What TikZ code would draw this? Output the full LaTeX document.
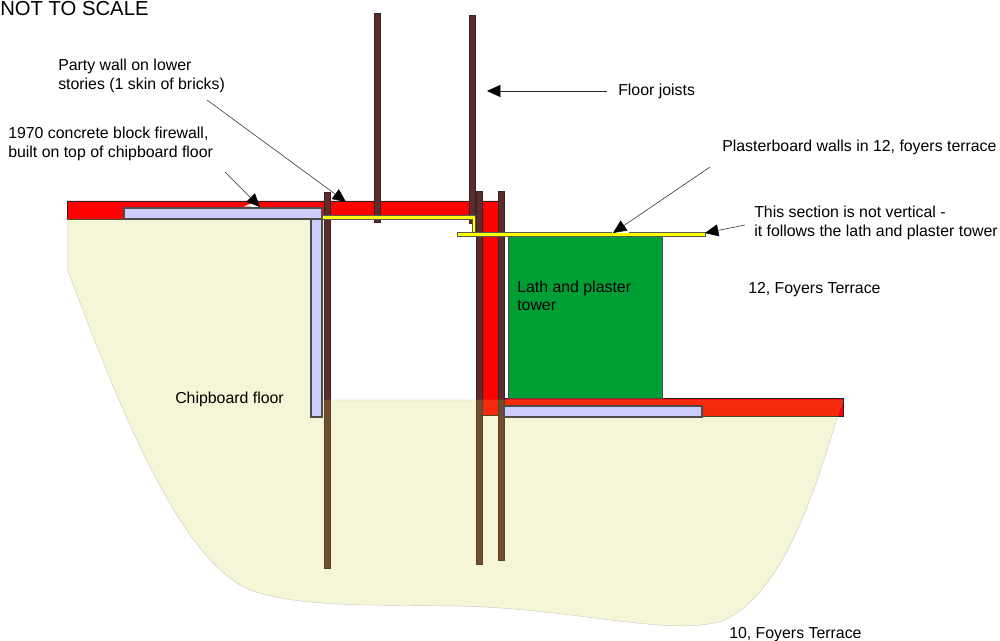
\documentclass[tikz,border=0pt]{standalone}
\usepackage{fontspec}
\setmainfont{Liberation Sans}
\usetikzlibrary{arrows.meta,positioning}
\definecolor{wallred}{HTML}{FF0000}
\definecolor{joistbrown}{HTML}{5A2D2D}
\definecolor{boardlilac}{HTML}{CCCCFF}
\definecolor{towergreen}{HTML}{009F36}
\definecolor{floorcream}{HTML}{CDCD37}
\definecolor{plasteryellow}{HTML}{FFFF00}
\tikzset{
	wall/.style={draw=black!85,line width=0.7pt,fill=wallred},
	joist/.style={draw=joistbrown!70!black,line width=0.5pt,fill=joistbrown},
	board/.style={draw=black!70,line width=0.8pt,fill=boardlilac},
	plaster/.style={draw=black!65,line width=0.7pt,fill=plasteryellow},
	caption/.style={inner sep=0pt,align=left,anchor=west,font=\fontsize{11.9}{13.8}\selectfont},
	pointer/.style={-{Triangle[length=10pt,width=9pt,fill=black,color=black]},line width=0.4pt,black!85}
}
\begin{document}
\begin{tikzpicture}[x=0.75pt,y=-0.75pt]
	\useasboundingbox (0,0) rectangle (1000,641);
	
	% Red walls
	\draw[wall] (67,201) -- (498,201) -- (498,415) -- (481,415) -- (481,219) -- (67,219) -- cycle;
	\draw[wall] (498,398) rectangle (843,416);
	
	% Tower
	\draw[draw=black!70,line width=0.5pt,fill=towergreen] (508,236) rectangle (662,398);
	
	% Joists
	\draw[joist] (324,192) rectangle (330.5,568);
	\draw[joist] (374,13) rectangle (380.5,222);
	\draw[joist] (469,15) rectangle (475.5,223);
	\draw[joist] (476,191) rectangle (482.5,564);
	\draw[joist] (498,191) rectangle (504.5,560);
	
	% Chipboard floor
	\draw[draw=black!40,line width=0.3pt,fill=floorcream,fill opacity=0.2,draw opacity=0.5]
		(67,219) -- (324,219) -- (324,400) -- (843,400) -- (838,415)
		.. controls (815,490) and (785,590) .. (725,620)
		.. controls (680,636) and (600,615) .. (500,608)
		.. controls (420,602) and (310,612) .. (250,590)
		.. controls (180,560) and (120,410) .. (67,268) -- cycle;
	
	% Chipboard
	\draw[board] (124,208) rectangle (322,219);
	\draw[board] (311,219) rectangle (322,417);
	\draw[board] (504,406) rectangle (702,417);
	
	% Plasterboard
	\draw[plaster] (322,215.5) -- (475,215.5) -- (475,232) -- (472,232) -- (472,219.5) -- (322,219.5) -- cycle;
	\draw[plaster] (457,232) rectangle (705,236.5);
	
	% White patches under the arrow heads
	\fill[white] (244,206.5) -- (252,203) -- (259,207) -- cycle;
	\fill[white] (612,232) rectangle (629,233);
	
	% Labels
	\node[caption,font=\fontsize{15.2}{18}\selectfont] (scalenote) at (0,9) {NOT TO SCALE};
	\node[caption] (partywall) at (58,76) {Party wall on lower\\stories (1 skin of bricks)};
	\node[caption] (firewall) at (8,144) {1970 concrete block firewall,\\built on top of chipboard floor};
	\node[caption] (joists) at (618,91) {Floor joists};
	\node[caption] (plasterwalls) at (722,147) {Plasterboard walls in 12, foyers terrace};
	\node[caption] (section) at (754,223) {This section is not vertical -\\it follows the lath and plaster tower};
	\node[caption] (tower) at (517,296) {Lath and plaster\\tower};
	\node[caption] (terrace12) at (748,290) {12, Foyers Terrace};
	\node[caption] (chipboard) at (175,399) {Chipboard floor};
	\node[caption] (terrace10) at (729,635) {10, Foyers Terrace};
	
	% Arrows
	\coordinate (partytip) at (346,202);
	\coordinate (firetip) at (260,207);
	\coordinate (joisttip) at (487,91);
	\coordinate (plastertip) at (613,233);
	\coordinate (sectiontip) at (705,233);
	\draw[pointer] (207,100) -- (partytip);
	\draw[pointer] (225,172) -- (firetip);
	\draw[pointer] (joists.west) ++(-11,0) -- (joisttip);
	\draw[pointer] (710,167) -- (plastertip);
	\draw[pointer] (745,225) -- (sectiontip);
\end{tikzpicture}
\end{document}
